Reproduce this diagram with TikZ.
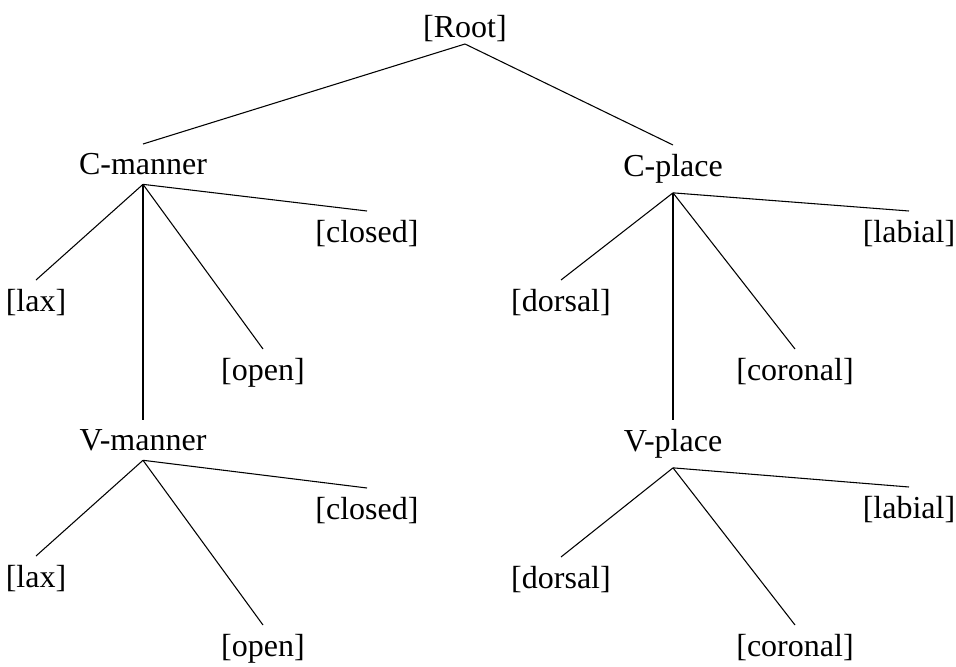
\documentclass[tikz,border=0pt]{standalone}
\usepackage{fontspec}
\setmainfont{Liberation Serif}

\begin{document}
\begin{tikzpicture}[x=0.375pt,y=-0.375pt]
        \tikzstyle{every node}=[font=\fontsize{12}{14}\selectfont]
        \tikzstyle{feat}=[anchor=north]
        \useasboundingbox (0,0) rectangle (956,667);

        % root
        \node[anchor=south,inner sep=0.5pt] (root) at (465,44) {[Root]};

        % manner side
        \node[feat] (cman) at (143,144) {C-manner};
        \node[feat] (claxm) at (36,280) {[lax]};
        \node[feat] (copen) at (263,349) {[open]};
        \node[feat] (cclosed) at (367,211) {[closed]};
        \node[feat] (vman) at (143,420) {V-manner};
        \node[feat] (vlaxm) at (36,556) {[lax]};
        \node[feat] (vopen) at (263,625) {[open]};
        \node[feat] (vclosed) at (367,488) {[closed]};

        % place side
        \node[feat] (cpl) at (673,145) {C-place};
        \node[feat] (cdors) at (561,280) {[dorsal]};
        \node[feat] (ccor) at (795,349) {[coronal]};
        \node[feat] (clab) at (909,211) {[labial]};
        \node[feat] (vpl) at (673,420) {V-place};
        \node[feat] (vdors) at (561,557) {[dorsal]};
        \node[feat] (vcor) at (795,625) {[coronal]};
        \node[feat] (vlab) at (909,487) {[labial]};

        \draw (root.south) -- (cman.north);
        \draw (root.south) -- (cpl.north);

        \foreach \a in {claxm,copen,cclosed,vman}
            \draw (cman.south) -- (\a.north);
        \foreach \a in {vlaxm,vopen,vclosed}
            \draw (vman.south) -- (\a.north);
        \foreach \a in {cdors,ccor,clab,vpl}
            \draw (cpl.south) -- (\a.north);
        \foreach \a in {vdors,vcor,vlab}
            \draw (vpl.south) -- (\a.north);

    \end{tikzpicture}
\end{document}
